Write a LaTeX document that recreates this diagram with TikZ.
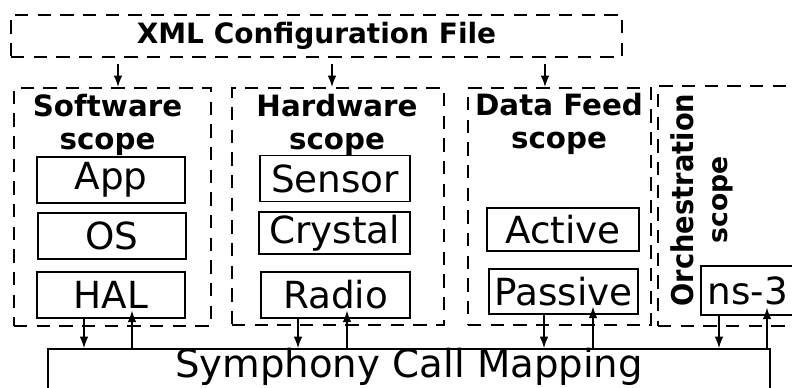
\documentclass[tikz,border=0pt]{standalone}
\usepackage{fontspec}
\setmainfont{DejaVu Sans}
\usetikzlibrary{arrows.meta}

\begin{document}
\begin{tikzpicture}[x=0.75pt,y=0.75pt,yscale=-1,xscale=1,
  scopebox/.style={draw, line width=1.7pt, dash pattern=on 10pt off 7pt, inner sep=0pt},
  compbox/.style={draw, line width=1.1pt, inner sep=0pt, font=\fontsize{28}{30}\selectfont},
  scopetitle/.style={inner sep=0pt, anchor=north, align=center, font=\fontsize{22}{24.75}\selectfont\bfseries},
  arr/.style={line width=0.9pt, -{Latex[length=8.5pt,width=6.5pt]}},
  cfgarr/.style={arr, shorten <=4.5pt},
  uparr/.style={arr, shorten >=-6pt},
]
\useasboundingbox (0,0) rectangle (792,387);

%Shape: Rectangle (config file)
\node [scopebox, minimum width=458.25pt, minimum height=31.5pt, font=\fontsize{21}{24}\selectfont\bfseries] (xml) at (316.5,36) {XML Configuration File};

%Shape: Rectangle (scopes)
\node [scopebox, minimum width=147.75pt, minimum height=178.5pt] (sw) at (112.5,207) {};
\node [scopebox, minimum width=159pt, minimum height=177.75pt] (hw) at (338,206.5) {};
\node [scopebox, minimum width=137.25pt, minimum height=177.75pt] (df) at (559.5,206.5) {};
\node [scopebox, minimum width=136.5pt, minimum height=180pt] (orch) at (749,206) {};

\node [scopetitle] (swtitle) at (107.5,94) {Software\\scope};
\node [scopetitle] (hwtitle) at (337,94) {Hardware\\scope};
\node [scopetitle] (dftitle) at (559,93) {Data Feed\\scope};
\node [inner sep=0pt, rotate=90, align=center, font=\fontsize{22.5}{26}\selectfont\bfseries] (orchtitle) at (702,200) {\scalebox{0.91}[1]{Orchestration}\\{\fontsize{20}{26}\selectfont scope}};

%Shape: Rectangle (components)
\node [compbox, minimum width=111pt, minimum height=34.5pt] (app) at (111,180) {App};
\node [compbox, minimum width=111pt, minimum height=34.5pt] (os) at (112,236) {OS};
\node [compbox, minimum width=111pt, minimum height=34.5pt] (hal) at (111,295) {HAL};

\node [compbox, minimum width=112.5pt, minimum height=34.5pt] (sensor) at (335,178.5) {Sensor};
\node [compbox, minimum width=113.25pt, minimum height=31.5pt] (crystal) at (334.5,233) {Crystal};
\node [compbox, minimum width=111.75pt, minimum height=34.5pt] (radio) at (335.5,295) {Radio};

\node [compbox, minimum width=114pt, minimum height=32.25pt] (active) at (563,229.5) {Active};
\node [compbox, minimum width=111.75pt, minimum height=33.75pt] (passive) at (563.5,291.5) {Passive};

\node [compbox, minimum width=70.5pt, minimum height=36.75pt] (ns3) at (748,290.5) {ns-3};

%Shape: Rectangle (call mapping)
\node [draw, line width=1.5pt, anchor=north, minimum width=541.5pt, inner ysep=0pt, text height=21pt, text depth=40pt, font=\fontsize{29}{30}\selectfont] (sym) at (409,348) {Symphony Call Mapping};

%Straight Lines (config to scopes)
\draw [cfgarr] (xml.south -| 118,0) -- (sw.north -| 118,0);
\draw [cfgarr] (xml.south -| 332,0) -- (hw.north -| 332,0);
\draw [cfgarr] (xml.south -| 545,0) -- (df.north -| 545,0);

%Straight Lines (calls down and up)
\draw [arr] (hal.south -| 84,0) -- (sym.north -| 84,0);
\draw [uparr] (sym.north -| 132,0) -- (hal.south -| 132,0);
\draw [arr] (radio.south -| 298,0) -- (sym.north -| 298,0);
\draw [uparr] (sym.north -| 347,0) -- (radio.south -| 347,0);
\draw [arr] (passive.south -| 544,0) -- (sym.north -| 544,0);
\draw [uparr] (sym.north -| 593,0) -- (passive.south -| 593,0);
\draw [arr] (ns3.south -| 719,0) -- (sym.north -| 719,0);
\draw [uparr] (sym.north -| 767,0) -- (ns3.south -| 767,0);

\end{tikzpicture}
\end{document}
